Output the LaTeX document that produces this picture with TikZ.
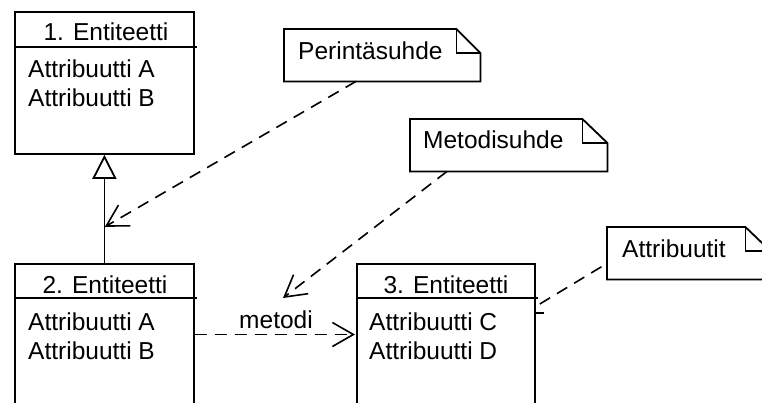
\documentclass[tikz,border=0pt]{standalone}
\usepackage{fontspec}
\setmainfont{Liberation Sans}
\usetikzlibrary{arrows.meta,calc}
\begin{document}
\begin{tikzpicture}[x=1pt,y=-1pt,
  box/.style={draw, line width=1.8pt, rectangle, anchor=north west, inner sep=0pt},
  sep/.style={line width=1.8pt},
  notebg/.style={rectangle, anchor=north west, inner sep=0pt},
  noteline/.style={line width=1.8pt, line join=miter},
  lbl/.style={anchor=base west, inner sep=0pt, font=\fontsize{24.5}{28}\selectfont},
  ctr/.style={anchor=base, inner sep=0pt, font=\fontsize{24.5}{28}\selectfont},
  dep/.style={line width=1.6pt, dash pattern=on 12pt off 8pt, -{Straight Barb[length=21pt,width=24pt]}},
  link/.style={line width=1.6pt, dash pattern=on 12pt off 8pt},
  inh/.style={line width=1.8pt, -{Triangle[open,length=24pt,width=24pt]}}
]
\useasboundingbox (0,0) rectangle (762,402);
\clip (0,0) rectangle (762,402);

% entity boxes
\node[box, minimum width=179pt, minimum height=142pt] (e1) at (14,11) {};
\node[box, minimum width=179pt, minimum height=170pt] (e2) at (14,263) {};
\node[box, minimum width=178pt, minimum height=170pt] (e3) at (356,263) {};
\draw[sep] ($(e1.north west)+(0,36)$) -- ($(e1.north east)+(2,36)$);
\draw[sep] ($(e2.north west)+(0,35)$) -- ($(e2.north east)+(2,35)$);
\draw[sep] ($(e3.north west)+(0,35)$) -- ($(e3.north east)+(2,35)$);

\node[ctr] (t1) at (106,40) {1. Entiteetti};
\node[lbl] (a1) at (28,77) {Attribuutti A};
\node[lbl] (b1) at (28,106) {Attribuutti B};

\node[ctr] (t2) at (105,293) {2. Entiteetti};
\node[lbl] (a2) at (28,330) {Attribuutti A};
\node[lbl] (b2) at (28,359) {Attribuutti B};

\node[ctr] (t3) at (446,293) {3. Entiteetti};
\node[lbl] (c3) at (369,330) {Attribuutti C};
\node[lbl] (d3) at (369,359) {Attribuutti D};

% notes
\node[notebg, minimum width=196pt, minimum height=52pt] (n1) at (284,29) {};
\node[notebg, minimum width=197pt, minimum height=52pt] (n2) at (410,119) {};
\node[notebg, minimum width=163pt, minimum height=52pt] (n3) at (607,227) {};
\foreach \n/\f in {n1/24,n2/25,n3/25}{
  \draw[noteline] (\n.north west) -- ($(\n.north east)+(-\f,0)$) -- ($(\n.north east)+(0,24)$)
     -- (\n.south east) -- (\n.south west) -- cycle;
  \draw[noteline] ($(\n.north east)+(-\f,0)$) |- ($(\n.north east)+(0,24)$);
}
\node[lbl] (n1t) at (298,59) {Perintäsuhde};
\node[lbl] (n2t) at (423,148) {Metodisuhde};
\node[lbl] (n3t) at (622,257) {Attribuutit};

% inheritance
\draw[inh] (e2.north) -- (e1.south);
\coordinate (inhpt) at ($(e1.south)+(0.5,72)$);
\coordinate (n1foot) at ($(n1.south west)+(72,0)$);
\draw[dep] (n1foot) -- (inhpt);

% method relation
\coordinate (mstart) at ($(e2.north east)+(0,71.5)$);
\coordinate (mend) at ($(e3.north west)+(-1,71.5)$);
\draw[dep] (mstart) -- (mend);
\node[ctr] (ml) at (276,328) {metodi};
\coordinate (n2foot) at ($(n2.south west)+(37,0)$);
\coordinate (mtip) at (283,298);
\draw[dep] (n2foot) -- (mtip);

% attribute link
\coordinate (astart) at ($(e3.north east)+(4,41)$);
\coordinate (n3foot) at ($(n3.south west)+(0,-16)$);
\draw[link] (astart) -- (n3foot);
\coordinate (tickA) at ($(e3.north east)+(0,50)$);
\coordinate (tickB) at ($(e3.north east)+(8,50)$);
\draw[line width=1.5pt] (tickA) -- (tickB);
\end{tikzpicture}
\end{document}
